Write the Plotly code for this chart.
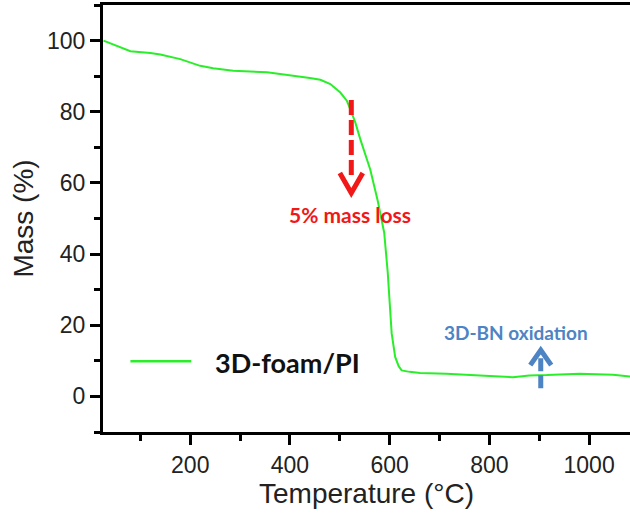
import plotly.graph_objects as go

# Data
temperature = [26, 50, 80, 120, 140, 180, 220, 246, 286, 354, 394, 420, 440, 461,
               481, 501, 514, 521, 531, 541, 561, 576, 589, 596, 600, 604, 611,
               618, 624, 640, 661, 714, 781, 820, 847, 880, 915, 981, 1048, 1082]
mass = [100.0, 98.6, 97.0, 96.5, 96.1, 94.8, 92.9, 92.2, 91.5, 91.1, 90.4, 90.0,
        89.5, 89.0, 87.8, 85.4, 83.1, 80.7, 77.0, 72.3, 63.8, 55.0, 46.0, 35.0,
        25.0, 17.7, 11.1, 8.5, 7.3, 6.9, 6.6, 6.4, 5.9, 5.7, 5.4, 5.9, 6.0, 6.4,
        6.1, 5.6]

series_name = "3D-foam/PI"
x_ticks = [200, 400, 600, 800, 1000]
y_ticks = [0, 20, 40, 60, 80, 100]

# annotation anchors (data units)
loss_x, loss_top, loss_tip = 523, 83.3, 57.2
ox_x, ox_bottom, ox_tip = 903, 2.3, 13.0

fig = go.Figure()
fig.add_trace(go.Scatter(x=temperature, y=mass, mode="lines", name=series_name,
                         line=dict(color="#2bee2b", width=2), showlegend=False))

red = "#f21818"
blue = "#4d84c4"
shapes = [
    # red dashed shaft
    dict(type="line", xref="x", yref="y", x0=loss_x, x1=loss_x, y0=loss_top, y1=loss_tip + 4.5,
         line=dict(color=red, width=5, dash="15px,5px")),
    # red chevron head
    dict(type="path", xref="x", yref="y",
         path=f"M {loss_x-23} {loss_tip+5.6} L {loss_x} {loss_tip} L {loss_x+23} {loss_tip+5.6}",
         line=dict(color=red, width=5)),
    # blue shaft (dashed)
    dict(type="line", xref="x", yref="y", x0=ox_x, x1=ox_x, y0=ox_bottom, y1=ox_tip - 1,
         line=dict(color=blue, width=5, dash="13px,4px")),
    # blue chevron head
    dict(type="path", xref="x", yref="y",
         path=f"M {ox_x-21} {ox_tip-4.2} L {ox_x} {ox_tip} L {ox_x+21} {ox_tip-4.2}",
         line=dict(color=blue, width=5)),
    # legend line
    dict(type="line", xref="x", yref="y", x0=80, x1=202, y0=9.9, y1=9.9,
         line=dict(color="#2bee2b", width=2.5)),
]

annotations = [
    dict(x=521, y=51.1, xref="x", yref="y", text="<b>5% mass loss</b>", showarrow=False,
         font=dict(family="Lato", size=21, color=red), xanchor="center", yanchor="middle"),
    dict(x=853, y=18.1, xref="x", yref="y", text="<b>3D-BN oxidation</b>", showarrow=False,
         font=dict(family="Lato", size=19, color=blue), xanchor="center", yanchor="middle"),
    dict(x=246, y=9.4, xref="x", yref="y", text=f"<b>{series_name}</b>", showarrow=False,
         font=dict(family="Lato", size=27, color="#111111"), xanchor="left", yanchor="middle"),
]

axis_font = dict(family="Liberation Sans, Arial", size=23, color="#222222")
fig.update_layout(
    width=630, height=516,
    margin=dict(l=103, r=0, t=5, b=84),
    paper_bgcolor="white", plot_bgcolor="white",
    shapes=shapes, annotations=annotations,
    xaxis=dict(range=[25, 1082], tickvals=x_ticks, ticks="outside", ticklen=10, tickwidth=3,
               tickcolor="black", showline=True, linecolor="black", linewidth=3, mirror=True,
               showgrid=False, zeroline=False, tickfont=axis_font, automargin=False,
               minor=dict(dtick=100, tick0=0, ticks="outside", ticklen=6, tickwidth=3, tickcolor="black"),
               title=dict(text="Temperature (°C)", font=dict(family="Liberation Sans, Arial", size=28, color="#222222"),
                          standoff=6)),
    yaxis=dict(range=[-10, 110], tickvals=y_ticks, ticks="outside", ticklen=10, tickwidth=3,
               tickcolor="black", showline=True, linecolor="black", linewidth=3, mirror=False,
               showgrid=False, zeroline=False, tickfont=axis_font, automargin=False,
               minor=dict(dtick=10, tick0=0, ticks="outside", ticklen=6, tickwidth=3, tickcolor="black"),
               title=dict(text="Mass (%)", font=dict(family="Liberation Sans, Arial", size=28, color="#222222"),
                          standoff=6)),
)

fig.write_html("out.html", config={"displayModeBar": False},
               post_script="document.body.style.margin='0px';")
